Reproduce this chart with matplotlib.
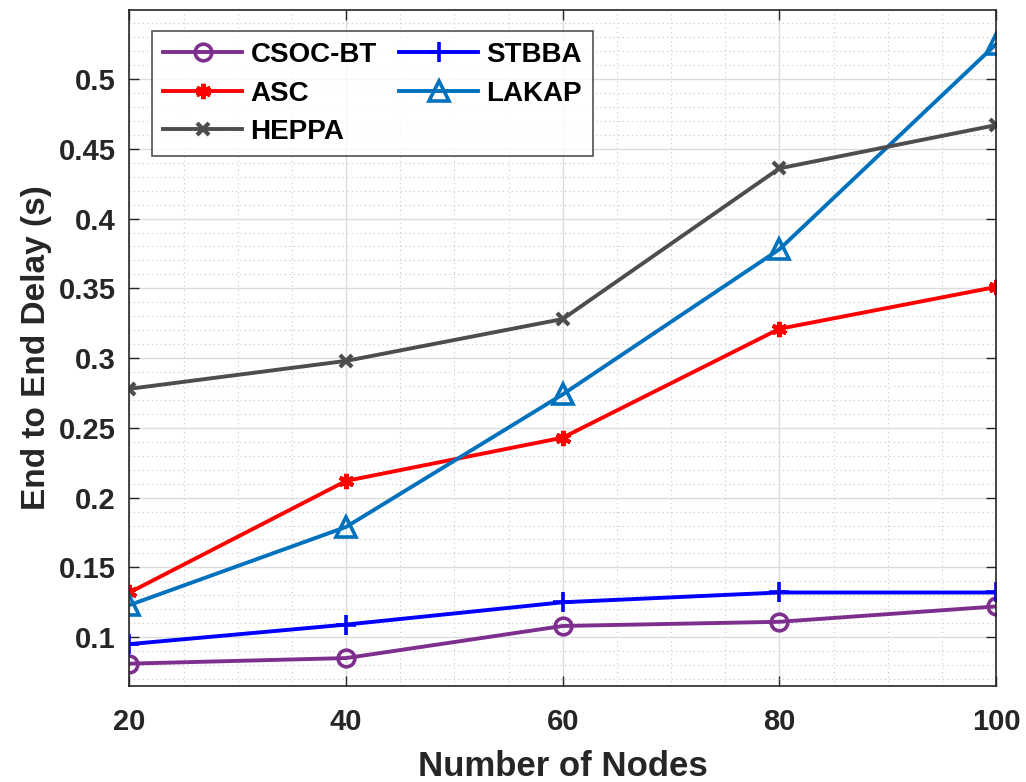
import numpy as np
import matplotlib
matplotlib.use("Agg")
import matplotlib.pyplot as plt
from matplotlib.ticker import MultipleLocator, FuncFormatter

nodes = [20, 40, 60, 80, 100]
csoc_bt = [0.081, 0.085, 0.108, 0.111, 0.122]
stbba = [0.095, 0.109, 0.125, 0.132, 0.132]
asc = [0.132, 0.212, 0.243, 0.321, 0.351]
lakap = [0.123, 0.179, 0.274, 0.378, 0.525]
heppa = [0.278, 0.298, 0.328, 0.436, 0.467]
y_ticks = [0.1, 0.15, 0.2, 0.25, 0.3, 0.35, 0.4, 0.45, 0.5]

plt.rcParams["font.family"] = ["Liberation Sans", "DejaVu Sans"]
plt.rcParams["font.weight"] = "bold"

fig = plt.figure(figsize=(10.26, 7.82), dpi=100)
ax = fig.add_axes([0.1262, 0.1228, 0.8446, 0.8644])

lw = 2.8
mw = 2.6
h1, = ax.plot(nodes, csoc_bt, color="#7E2F8E", lw=lw, marker="o", ms=12,
              mfc="none", mew=mw, label="CSOC-BT")
h4, = ax.plot(nodes, stbba, color="#0000FF", lw=lw, marker="+", ms=15,
              mew=mw, label="STBBA")
h2, = ax.plot(nodes, asc, color="#FF0000", lw=lw, marker=(6, 2, 0), ms=11,
              mew=mw + 0.4, label="ASC")
h5, = ax.plot(nodes, lakap, color="#0072BD", lw=lw, marker="^", ms=14,
              mfc="none", mew=mw, label="LAKAP")
h3, = ax.plot(nodes, heppa, color="#4D4D4D", lw=lw, marker="x", ms=9,
              mew=mw + 0.4, label="HEPPA")

ax.set_xlim(20, 100)
ax.set_ylim(0.065, 0.5495)
ax.xaxis.set_major_locator(MultipleLocator(20))
ax.xaxis.set_minor_locator(MultipleLocator(5))
ax.set_yticks(y_ticks)
ax.yaxis.set_minor_locator(MultipleLocator(0.01))
ax.yaxis.set_major_formatter(FuncFormatter(lambda v, p: f"{v:g}"))

ax.grid(which="major", color="#dcdcdc", lw=1.0, ls="-")
ax.grid(which="minor", color="#c8c8c8", lw=0.8, ls=(0, (1, 3)))
ax.set_axisbelow(True)

ax.tick_params(which="major", direction="in", length=7, width=1.0,
               labelsize=21, colors="#262626", top=True, right=True)
ax.tick_params(axis="x", pad=16)
ax.tick_params(axis="y", pad=10)
ax.tick_params(which="minor", length=0)
for s in ax.spines.values():
    s.set_color("#262626")
    s.set_linewidth(1.2)
for lab in ax.get_xticklabels() + ax.get_yticklabels():
    lab.set_fontweight("bold")

ax.set_xlabel("Number of Nodes", fontsize=25, fontweight="bold",
              color="#262626", labelpad=10)
ax.set_ylabel("End to End Delay (s)", fontsize=24, fontweight="bold",
              color="#262626", labelpad=5)

leg = ax.legend(handles=[h1, h2, h3, h4, h5], ncol=2, loc="upper left",
                bbox_to_anchor=(0.026, 0.969), borderaxespad=0, frameon=True,
                fancybox=False, edgecolor="#262626", handlelength=2.85,
                columnspacing=0.8, handletextpad=0.3, labelspacing=0.45,
                borderpad=0.4, prop={"weight": "bold", "size": 20})
leg.get_frame().set_linewidth(1.2)

fig.savefig("out.png", dpi=100)
